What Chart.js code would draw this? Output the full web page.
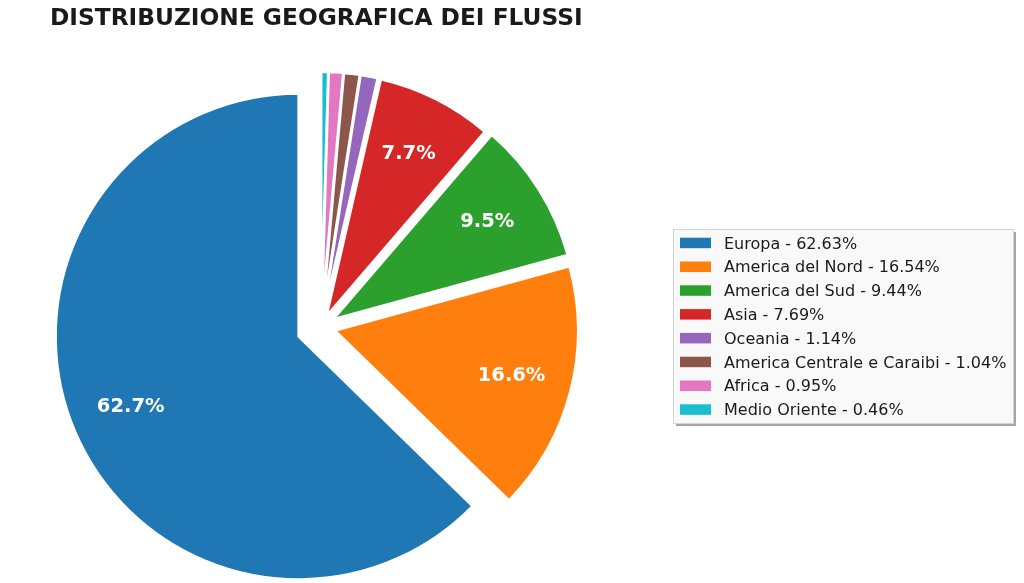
<!DOCTYPE html>
<html>
<head>
<meta charset="utf-8">
<script src="https://cdn.jsdelivr.net/npm/chart.js@4/dist/chart.umd.min.js"></script>
<style>
  html, body { margin: 0; padding: 0; background: #fff; }
  #wrap { width: 1024px; height: 583px; }
</style>
</head>
<body>
<div id="wrap"><canvas id="geoChart" width="1024" height="583"></canvas></div>
<script>
// Chart data
const titleText = 'DISTRIBUZIONE GEOGRAFICA DEI FLUSSI';
const regions = ['Europa', 'America del Nord', 'America del Sud', 'Asia', 'Oceania',
                 'America Centrale e Caraibi', 'Africa', 'Medio Oriente'];
const shares = [62.63, 16.54, 9.44, 7.69, 1.14, 1.04, 0.95, 0.46];
const sliceColors = ['#1f77b4', '#ff7f0e', '#2ca02c', '#d62728', '#9467bd', '#8c564b', '#e377c2', '#17becf'];
const explode = [0.1, 0.06, 0.06, 0.05, 0.05, 0.05, 0.05, 0.05];

const RADIUS = 243;
const total = shares.reduce((a, b) => a + b, 0);

// matplotlib goes counter-clockwise from the top, Chart.js clockwise -> reverse
const rev = arr => arr.slice().reverse();

// push each wedge out along its middle angle, like matplotlib "explode"
const explodePlugin = {
    id: 'explodeSlices',
    afterDatasetUpdate(chart, args) {
        const ds = chart.data.datasets[args.index];
        args.meta.data.forEach((arc, i) => {
            const mid = (arc.startAngle + arc.endAngle) / 2;
            const d = (ds.explode[i] || 0) * arc.outerRadius;
            arc.x += Math.cos(mid) * d;
            arc.y += Math.sin(mid) * d;
        });
    }
};

const decorPlugin = {
    id: 'decor',
    afterDatasetsDraw(chart) {
        const ctx = chart.ctx;
        const meta = chart.getDatasetMeta(0);
        const values = chart.data.datasets[0].data;
        ctx.save();
        ctx.fillStyle = '#fff';
        ctx.font = 'bold 19.5px "DejaVu Sans"';
        ctx.textAlign = 'center';
        ctx.textBaseline = 'middle';
        meta.data.forEach((arc, i) => {
            const pct = values[i] / total * 100;
            if (pct < 5) return;
            const mid = (arc.startAngle + arc.endAngle) / 2;
            const r = arc.outerRadius * 0.75;
            ctx.fillText(pct.toFixed(1) + '%', arc.x + Math.cos(mid) * r, arc.y + Math.sin(mid) * r);
        });
        ctx.restore();
    },
    afterDraw(chart) {
        const ctx = chart.ctx;
        ctx.save();
        // title
        ctx.fillStyle = '#1a1a1a';
        ctx.font = 'bold 23.3px "DejaVu Sans"';
        ctx.textAlign = 'left';
        ctx.textBaseline = 'alphabetic';
        ctx.fillText(titleText, 50, 25);

        // legend box with shadow
        const bx = 673.5, by = 229.5, bw = 340, bh = 194;
        ctx.fillStyle = 'rgba(0,0,0,0.35)';
        ctx.fillRect(bx + 2.5, by + 2.5, bw, bh);
        ctx.fillStyle = '#f9f9f9';
        ctx.fillRect(bx, by, bw, bh);
        ctx.strokeStyle = '#d4d4d4';
        ctx.lineWidth = 1;
        ctx.strokeRect(bx, by, bw, bh);

        ctx.font = '16px "DejaVu Sans"';
        regions.forEach((name, i) => {
            const cy = 242.7 + i * 23.8;
            ctx.fillStyle = sliceColors[i];
            ctx.fillRect(680, cy - 5, 31, 10.5);
            ctx.fillStyle = '#1a1a1a';
            ctx.fillText(name + ' - ' + shares[i].toFixed(2) + '%', 724, cy + 5.8);
        });
        ctx.restore();
    }
};

const chart = new Chart(document.getElementById('geoChart'), {
    type: 'pie',
    data: {
        labels: rev(regions),
        datasets: [{
            data: rev(shares),
            backgroundColor: rev(sliceColors),
            borderColor: '#ffffff',
            borderWidth: 2.5,
            borderJoinStyle: 'miter',
            explode: rev(explode)
        }]
    },
    options: {
        responsive: false,
        animation: false,
        events: [],
        radius: RADIUS,
        rotation: 0,
        layout: { padding: { left: 0, right: 382, top: 71, bottom: 0 } },
        plugins: {
            legend: { display: false },
            title: { display: false },
            tooltip: { enabled: false }
        }
    },
    plugins: [explodePlugin, decorPlugin]
});
</script>
</body>
</html>
